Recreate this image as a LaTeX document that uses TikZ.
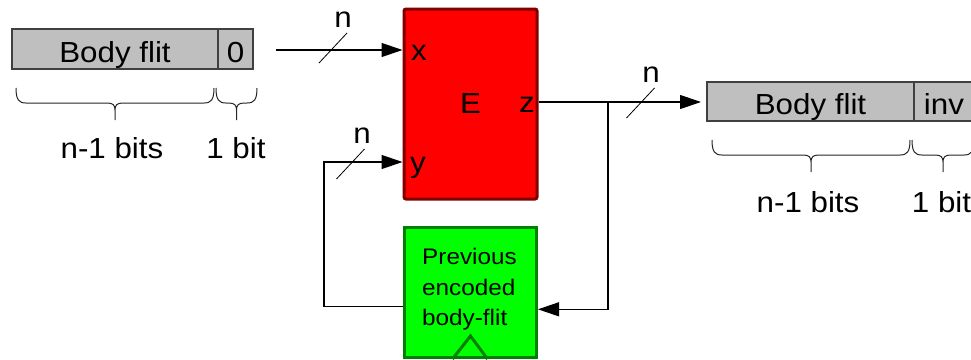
\documentclass[tikz,border=0pt]{standalone}
\usepackage{fontspec}
\setmainfont[FakeStretch=1.08]{Liberation Sans}
\usetikzlibrary{arrows.meta, positioning, calc}

\begin{document}
\begin{tikzpicture}[x=1pt, y=-1pt,
  font=\fontsize{29}{34}\selectfont,
  wire/.style={line width=1.2pt},
  arr/.style={wire, -{Triangle[length=21pt,width=14pt]}},
  flit/.style={draw=black!75, line width=1.2pt, fill=black!25, minimum height=40pt,
    inner sep=0pt, outer sep=0pt, text height=26pt, text depth=0pt},
  brc/.style={line width=1pt, black!85},
  bus/.style={line width=0.8pt},
  lbl/.style={inner sep=0pt}]
  \useasboundingbox (0,0) rectangle (971,359);
  \clip (0,0) rectangle (971,359);

  % Flit fields
  \node[flit, minimum width=206pt] (lbody) at (115,49) {Body flit};
  \node[flit, minimum width=35pt, anchor=west] (lbit) at (lbody.east) {0};
  \node[flit, minimum width=207pt, minimum height=39pt] (rbody) at (810.5,101.5) {Body flit};
  \node[flit, minimum width=60pt, minimum height=39pt, anchor=west] (rbit) at (rbody.east) {inv};

  % Encoder and register
  \node[draw=red!50!black, fill=red, line width=3pt, rounded corners=2pt,
    minimum width=133pt, minimum height=190pt] (enc) at (470.5,104) {};
  \node[draw=green!50!black, fill=green, line width=3pt,
    minimum width=132pt, minimum height=130pt] (prev) at (470.5,292.5) {};
  \node[lbl, anchor=west, align=left, font=\fontsize{22.5}{30.5}\selectfont] (prevtxt)
    at (422,289.5) {Previous\\encoded\\body-flit};
  \draw[green!50!black, line width=3pt] ($(prev.south)+(-18,0)$) -- ($(prev.south)+(0,-23)$)
    -- ($(prev.south)+(17,0)$);

  % Port labels
  \node[lbl, anchor=base west] (px) at (411,60) {x};
  \node[lbl, anchor=base west] (py) at (410,172) {y};
  \node[lbl, anchor=base] (pE) at (470.5,113) {E};
  \node[lbl, anchor=base east] (pz) at (535,112) {z};

  % Wires
  \coordinate (src) at (276,50);
  \coordinate (J) at (608,102);
  \coordinate (Jd) at (608,309.3);
  \coordinate (fbl) at (324,306.5);
  \coordinate (fbu) at (324,162);
  \draw[arr] (src) -- (enc.west |- src);
  \draw[arr, shorten >=6pt] (enc.east |- J) -- (rbody.west |- J);
  \draw[arr] (J) -- (Jd) -- (prev.east |- Jd);
  \draw[arr] (prev.west |- fbl) -- (fbl) -- (fbu) -- (enc.west |- fbu);

  % Bus width marks
  \foreach \sx/\sy in {333/48, 640.5/103, 350.5/164}
    \draw[bus] (\sx-14,\sy+15) -- (\sx+14,\sy-15);
  \node[lbl] (n1) at (343,20) {n};
  \node[lbl] (n2) at (651,75) {n};
  \node[lbl] (n3) at (362,136) {n};

  % Braces
  \foreach \xa/\xb/\yb in {16/214/88, 216/257/88, 712/910/140, 912/974/140}{
    \pgfmathsetmacro{\xm}{(\xa+\xb)/2}
    \draw[brc] (\xa,\yb) .. controls (\xa,\yb+12) and (\xa+3,\yb+15) .. (\xa+10,\yb+15)
      -- (\xm-8,\yb+15) .. controls (\xm-2,\yb+15) and (\xm,\yb+17) .. (\xm,\yb+22)
      -- (\xm,\yb+32)
      (\xm,\yb+22) .. controls (\xm,\yb+17) and (\xm+2,\yb+15) .. (\xm+8,\yb+15)
      -- (\xb-10,\yb+15) .. controls (\xb-3,\yb+15) and (\xb,\yb+12) .. (\xb,\yb);
  }
  \node[lbl, anchor=base] (lw) at (112,158) {n-1 bits};
  \node[lbl, anchor=base] (lb) at (236,158) {1 bit};
  \node[lbl, anchor=base] (rw) at (808,212) {n-1 bits};
  \node[lbl, anchor=base] (rb) at (941.5,212) {1 bit};
\end{tikzpicture}
\end{document}
